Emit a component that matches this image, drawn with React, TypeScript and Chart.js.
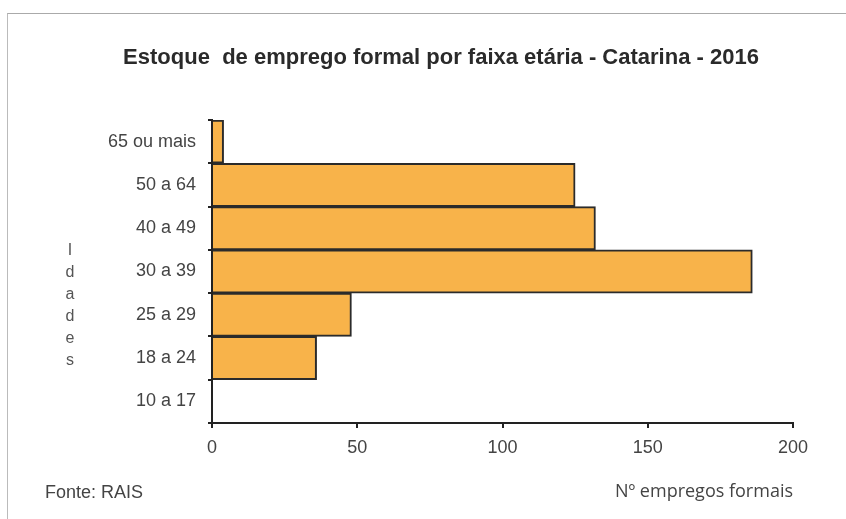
import React, { useEffect, useRef } from "react";
import { Chart, registerables } from "chart.js";

Chart.register(...registerables);

const categories = ["65 ou mais", "50 a 64", "40 a 49", "30 a 39", "25 a 29", "18 a 24", "10 a 17"];
const values = [4, 125, 132, 186, 48, 36, 0];
const xTicks = [0, 50, 100, 150, 200];
const titleText = "Estoque  de emprego formal por faixa etária - Catarina - 2016";
const xTitle = "Nº empregos formais";
const yTitleLetters = ["I", "d", "a", "d", "e", "s"];
const sourceText = "Fonte: RAIS";

const textPlugin = {
  id: "extraText",
  afterDraw(chart: any) {
    const ctx = chart.ctx;
    ctx.save();
    ctx.fillStyle = "#2a2a2a";
    ctx.font = "bold 22px 'Liberation Sans', Arial, sans-serif";
    ctx.textAlign = "center";
    ctx.textBaseline = "middle";
    ctx.fillText(titleText, 441, 58);
    ctx.fillStyle = "#444";
    ctx.font = "18px 'Liberation Sans', Arial, sans-serif";
    ctx.textAlign = "left";
    ctx.fillText(sourceText, 45, 493);
    ctx.font = "16px 'Liberation Sans', Arial, sans-serif";
    ctx.textAlign = "center";
    ctx.fillStyle = "#555";
    yTitleLetters.forEach((l, i) => {
      ctx.fillText(l, 70, 251 + i * 22);
    });
    ctx.restore();
  },
};

export default function App() {
  const ref = useRef<HTMLCanvasElement>(null);
  useEffect(() => {
    if (!ref.current) return;
    const chart = new Chart(ref.current, {
      type: "bar",
      data: {
        labels: categories,
        datasets: [
          {
            data: values,
            backgroundColor: "#F8B34A",
            borderColor: "#2b2b2b",
            borderWidth: 2,
            barPercentage: 1,
            categoryPercentage: 1,
          },
        ],
      },
      options: {
        indexAxis: "y",
        animation: false,
        responsive: false,
        layout: { padding: { left: 0, right: 53, top: 120, bottom: 0 } },
        plugins: {
          legend: { display: false },
          tooltip: { enabled: false },
          title: { display: false },
        },
        scales: {
          x: {
            min: 0,
            max: 200,
            afterBuildTicks: (s: any) => {
              s.ticks = xTicks.map((v) => ({ value: v }));
            },
            afterFit: (s: any) => {
              s.height = 96;
            },
            grid: { drawOnChartArea: false, drawTicks: true, tickLength: 5, color: "#222", lineWidth: 2 },
            border: { display: true, color: "#222", width: 2 },
            ticks: {
              color: "#444",
              padding: 9,
              font: { family: "'Liberation Sans', Arial, sans-serif", size: 18 },
            },
            title: {
              display: true,
              text: xTitle,
              align: "end",
              color: "#444",
              font: { family: "'Open Sans', sans-serif", size: 18 },
              padding: { top: 0, bottom: 16 },
            },
          },
          y: {
            afterFit: (s: any) => {
              s.width = 212;
            },
            grid: { drawOnChartArea: false, drawTicks: true, tickLength: 4, offset: true, color: "#222", lineWidth: 2 },
            border: { display: true, color: "#222", width: 2 },
            ticks: {
              color: "#444",
              padding: 12,
              font: { family: "'Liberation Sans', Arial, sans-serif", size: 18 },
            },
          },
        },
      },
      plugins: [textPlugin],
    });
    return () => chart.destroy();
  }, []);
  return (
    <div style={{ position: "fixed", left: 0, top: 0, width: 846, height: 519, background: "#fff" }}>
      <div
        style={{
          position: "absolute",
          left: 7,
          top: 13,
          width: 839,
          height: 506,
          borderTop: "1px solid #aaa",
          borderLeft: "1px solid #bbb",
          boxSizing: "border-box",
        }}
      />
      <canvas ref={ref} width={846} height={519} style={{ position: "absolute", left: 0, top: 0 }} />
    </div>
  );
}
